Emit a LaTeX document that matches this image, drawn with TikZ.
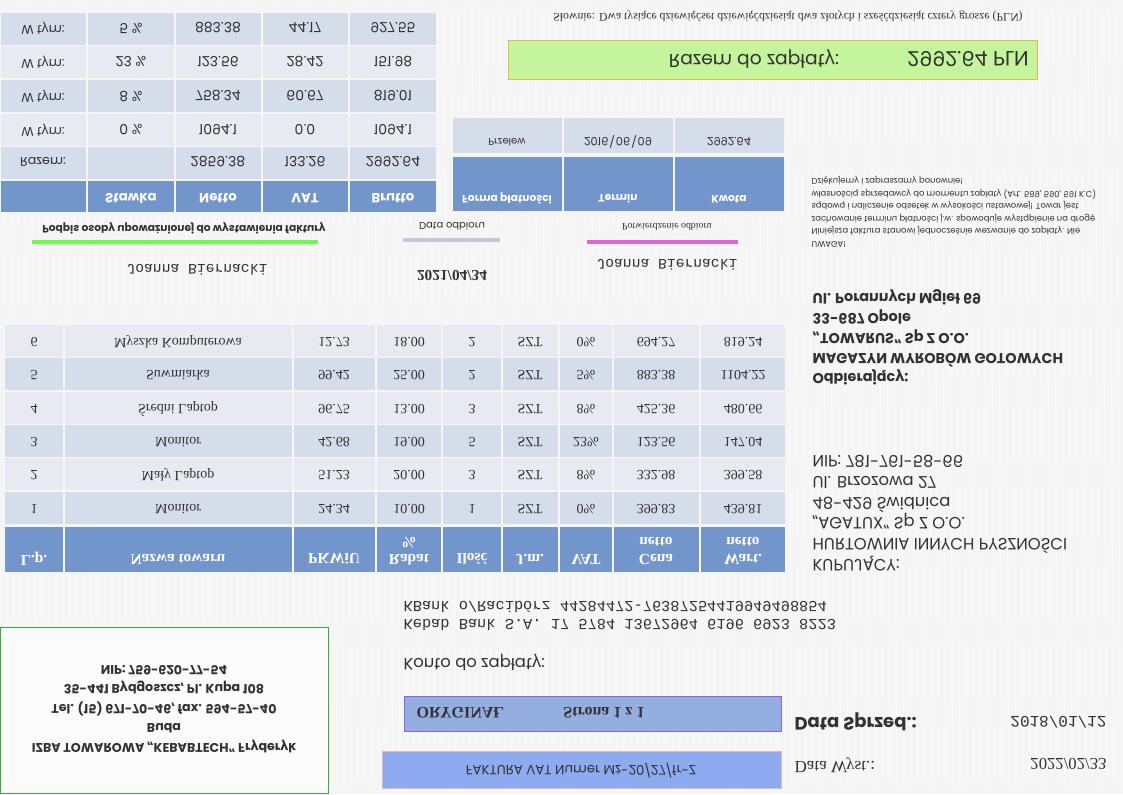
\documentclass[tikz,border=0pt]{standalone}
\usepackage{fontspec}
\setmainfont{Liberation Serif}
\setsansfont{Poppins}
\setmonofont{Liberation Mono}
\definecolor{tlo}{RGB}{245,245,246}
\definecolor{naglowek}{RGB}{114,150,203}
\definecolor{wierszC}{RGB}{213,220,234}
\definecolor{wierszJ}{RGB}{231,234,240}
\definecolor{zielony}{RGB}{196,245,156}
\definecolor{ramkaZ}{RGB}{224,184,80}
\definecolor{niebieski}{RGB}{142,170,240}
\definecolor{oryginal}{RGB}{148,174,226}
\definecolor{fiolet}{RGB}{144,96,224}
\definecolor{tekst}{RGB}{50,50,50}
\definecolor{magenta2}{RGB}{222,72,222}
\tikzset{
  kom/.style={text=tekst,inner sep=1pt},
  nagl/.style={text=white,font=\sffamily\bfseries\fontsize{10}{12}\selectfont,inner sep=1pt},
  naglT/.style={text=white,font=\bfseries\fontsize{11.5}{12.5}\selectfont,align=center,inner sep=1pt},
}
\begin{document}
\begin{tikzpicture}[x=.75pt,y=.75pt,yscale=-1,every node/.append style={transform shape}]
\useasboundingbox (0,0) rectangle (1123,794);
% Tlo
\fill[tlo] (0,0) rectangle (1123,794);
\foreach \i in {3,10,...,1123}
  \draw[white,line width=1pt,opacity=.3] (\i,0) -- (\i+5,794);
% Podsumowanie VAT
\foreach \y/\k in {12/wierszC,45/wierszJ,79/wierszC,113/wierszJ,146/wierszC}
  \foreach \xa/\xb in {0/87,87/175,175/262,262/349,349/437}
    \fill[\k] (\xa+1,\y+1) rectangle (\xb-1,\y+33);
\foreach \xa/\xb in {0/87,87/175,175/262,262/349,349/437}
  \fill[naglowek] (\xa+1,181) rectangle (\xb-1,212);
\node[nagl] (hStawka) at (131,198) {Stawka};
\node[nagl] (hNetto) at (218,198) {Netto};
\node[nagl] (hVat) at (305,198) {VAT};
\node[nagl] (hBrutto) at (393,198) {Brutto};
\foreach \n/\y/\et/\st/\ne/\va/\br in {1/162/Razem:/{}/2859.38/133.26/2992.64,
    2/130/W tym:/0 \%/1094.1/0.0/1094.1, 3/96/W tym:/8 \%/758.34/60.67/819.01,
    4/62/W tym:/23 \%/123.56/28.42/151.98, 5/28/W tym:/5 \%/883.38/44.17/927.55}{
  \node[kom,font=\sffamily\fontsize{9.5}{10}\selectfont] (vEt\n) at (43,\y) {\et};
  \node[kom,font=\sffamily\fontsize{10.5}{11}\selectfont] (vSt\n) at (131,\y) {\st};
  \node[kom,font=\sffamily\fontsize{10.5}{11}\selectfont] (vNe\n) at (218,\y) {\ne};
  \node[kom,font=\sffamily\fontsize{10.5}{11}\selectfont] (vVa\n) at (305,\y) {\va};
  \node[kom,font=\sffamily\fontsize{10.5}{11}\selectfont] (vBr\n) at (393,\y) {\br};
}
% Platnosc
\foreach \xa/\xb in {452/563,563/674,674/785}{
  \fill[wierszC] (\xa+1,118) rectangle (\xb-1,153);
  \fill[naglowek] (\xa+1,157) rectangle (\xb-1,211);
}
\node[nagl,font=\sffamily\bfseries\fontsize{8}{9}\selectfont] (hForma) at (507,199) {Forma płatności};
\node[nagl,font=\sffamily\bfseries\fontsize{8}{9}\selectfont] (hTermin) at (618,199) {Termin};
\node[nagl,font=\sffamily\bfseries\fontsize{8}{9}\selectfont] (hKwota) at (729,199) {Kwota};
\node[kom,font=\sffamily\fontsize{7.5}{9}\selectfont] (pForma) at (507,142) {Przelew};
\node[kom,font=\sffamily\fontsize{8.5}{9}\selectfont] (pTermin) at (618,142) {2016\textbackslash 06\textbackslash 09};
\node[kom,font=\sffamily\fontsize{8.5}{9}\selectfont] (pKwota) at (729,142) {2992.64};
% Razem do zaplaty
\node[kom,font=\fontsize{8.8}{9}\selectfont] (slownie) at (788,16) {Słownie: Dwa tysiące dziewięćset dziewięćdziesiąt dwa złotych i sześćdziesiąt cztery grosze (PLN)};
\draw[ramkaZ,fill=zielony] (508,40) rectangle (1037,79);
\node[kom,font=\sffamily\fontsize{14}{15}\selectfont] (razemTxt) at (754,59) {Razem do zapłaty:};
\node[kom,font=\sffamily\fontsize{15.5}{16}\selectfont] (razemKw) at (968,59) {2992.64 PLN};
% Podpisy
\node[kom,font=\sffamily\bfseries\fontsize{8}{9}\selectfont] (podpis) at (184,228) {Podpis osoby upoważnionej do wystawienia faktury};
\draw[green!75!lime,line width=3.5pt,opacity=.7] (32,242) -- (318,242);
\node[kom,font=\ttfamily\fontsize{11}{12}\selectfont] (wystawil) at (197,270) {Joanna  Biernacki};
\node[kom,font=\sffamily\fontsize{7.5}{9}\selectfont] (dataOdb) at (452,226) {Data odbioru};
\draw[blue!20!gray!40,line width=3.5pt,opacity=.9] (403,240) -- (500,240);
\node[kom,font=\bfseries\fontsize{11.5}{12}\selectfont] (dataOdbW) at (452,276) {2021/04/34};
\node[kom,font=\fontsize{7.4}{8}\selectfont] (potw) at (667,227) {Potwierdzenie odbioru};
\draw[magenta2,line width=3pt,opacity=.85] (587,242) -- (738,242);
\node[kom,font=\ttfamily\fontsize{11}{12}\selectfont] (odebral) at (667,265) {Joanna  Biernacki};
% Uwagi
\node[kom,font=\sffamily\fontsize{6.3}{9.4}\selectfont,align=left,anchor=west] (uwagi) at (810,212) {UWAGA!\\Niniejsza faktura stanowi jednocześnie wezwanie do zapłaty. Nie\\zachowanie terminu płatności j.w. spowoduje wystąpienie na drogę\\sądową i naliczenie odsetek w wysokości ustawowej! Towar jest\\własnością sprzedawcy do momentu zapłaty (Art. 589, 590, 591 K.C)\\Dziękujemy i zapraszamy ponownie!};
% Odbiorca i nabywca
\node[kom,font=\sffamily\bfseries\fontsize{10.8}{15}\selectfont,align=left,anchor=west] (odbiorca) at (811,337) {Odbierający:\\MAGAZYN WYROBÓW GOTOWYCH\\„TOWARUS” Sp Z O.O.\\33-687 Opole\\Ul. Porannych Mgieł 69};
\node[kom,font=\sffamily\fontsize{12.3}{15.5}\selectfont,align=left,anchor=west] (nabywca) at (811,513) {KUPUJĄCY:\\HURTOWNIA INNYCH PYSZNOŚCI\\„AGATUX” Sp Z O.O.\\48-429 Świdnica\\Ul. Brzozowa 27\\NIP: 781-761-58-66};
% Tabela towarow
\foreach \y/\k in {324/wierszJ,357/wierszC,391/wierszJ,424/wierszC,457/wierszJ,491/wierszC}
  \foreach \xa/\xb in {4/64,64/293,293/376,376/442,442/502,502/559,559/613,613/700,700/786}
    \fill[\k] (\xa+1,\y+1) rectangle (\xb-1,\y+33);
\foreach \xa/\xb in {4/64,64/293,293/376,376/442,442/502,502/559,559/613,613/700,700/786}
  \fill[naglowek] (\xa+1,527) rectangle (\xb-1,572);
\node[naglT] (tLp) at (34,559) {L.p.};
\node[naglT] (tNazwa) at (178,559) {Nazwa towaru};
\node[naglT] (tPkwiu) at (334,559) {PKWiU};
\node[naglT] (tRabat) at (409,551) {Rabat\\\%};
\node[naglT] (tIlosc) at (472,559) {Ilość};
\node[naglT] (tJm) at (530,559) {J.m.};
\node[naglT] (tVat) at (586,559) {VAT};
\node[naglT] (tCena) at (656,551) {Cena\\netto};
\node[naglT] (tWart) at (743,551) {Wart.\\netto};
\foreach \n/\y/\nazwa/\pk/\rb/\il/\vt/\ce/\wa in {1/509/Monitor/24.34/10.00/1/0\%/399.83/439.81,
    2/475/Mały Laptop/51.23/20.00/3/8\%/332.98/399.58,
    3/442/Monitor/42.68/19.00/5/23\%/123.56/147.04,
    4/409/Średni Laptop/96.75/13.00/3/8\%/425.36/480.66,
    5/375/Suwmiarka/99.42/25.00/2/5\%/883.38/1104.22,
    6/342/Myszka Komputerowa/12.73/18.00/2/0\%/694.27/819.24}{
  \node[kom,font=\fontsize{10.5}{12}\selectfont] (lp\n) at (34,\y) {\n};
  \node[kom,font=\fontsize{10.5}{12}\selectfont] (nazwa\n) at (178,\y) {\nazwa};
  \node[kom,font=\fontsize{10.5}{12}\selectfont] (pkwiu\n) at (334,\y) {\pk};
  \node[kom,font=\fontsize{10.5}{12}\selectfont] (rabat\n) at (409,\y) {\rb};
  \node[kom,font=\fontsize{10.5}{12}\selectfont] (ilosc\n) at (472,\y) {\il};
  \node[kom,font=\fontsize{10.5}{12}\selectfont] (jm\n) at (530,\y) {SZT};
  \node[kom,font=\fontsize{10.5}{12}\selectfont] (vat\n) at (586,\y) {\vt};
  \node[kom,font=\fontsize{10.5}{12}\selectfont] (cena\n) at (656,\y) {\ce};
  \node[kom,font=\fontsize{10.5}{12}\selectfont] (wart\n) at (743,\y) {\wa};
}
% Sprzedawca
\draw[green!60!black!80,fill=white,fill opacity=.6] (0,627) rectangle (328,793);
\node[kom,font=\sffamily\bfseries\fontsize{9.5}{14.6}\selectfont,align=center] (sprzedawca) at (164,709) {IZBA TOWAROWA „KEBABTECH” Fryderyk\\Buda\\Tel. (15) 671-70-46, fax. 594-57-40\\35-441 Bydgoszcz, Pl. Kupa 108\\NIP: 759-620-77-54};
% Konto
\node[kom,font=\sffamily\fontsize{12.3}{13}\selectfont,anchor=west] (konto) at (402,662) {Konto do zapłaty:};
\node[kom,font=\ttfamily\fontsize{11.5}{13.5}\selectfont,align=left,anchor=west] (bank) at (402,616) {Kebab Bank S.A. 17 5784 13672964 6196 6923 8223\\KBank  o/Racibórz 44284472-76387254419949498854};
% Naglowek faktury
\draw[fiolet,fill=oryginal] (404,696) rectangle (781,731);
\node[kom,font=\bfseries\fontsize{12}{13}\selectfont,anchor=west] (oryg) at (415,713) {ORYGINAŁ};
\node[kom,font=\bfseries\fontsize{12}{13}\selectfont] (strona) at (604,713) {Strona 1 z 1};
\draw[gray!60!red!40,fill=niebieski] (382,751) rectangle (781,788);
\node[kom,font=\sffamily\fontsize{10}{12}\selectfont] (numer) at (581,771) {FAKTURA VAT Numer Mż-20/27/fr-Z};
\node[kom,font=\sffamily\bfseries\fontsize{13.5}{14}\selectfont,anchor=west] (dSprz) at (793,722) {Data Sprzed.:};
\node[kom,font=\ttfamily\fontsize{12}{13}\selectfont,anchor=east] (dSprzW) at (1108,722) {2018/01/12};
\node[kom,font=\fontsize{12.8}{13}\selectfont,anchor=west] (dWyst) at (793,765) {Data Wyst.:};
\node[kom,font=\fontsize{12.5}{13}\selectfont,anchor=east] (dWystW) at (1108,764) {2022/02/33};
\end{tikzpicture}
\end{document}
